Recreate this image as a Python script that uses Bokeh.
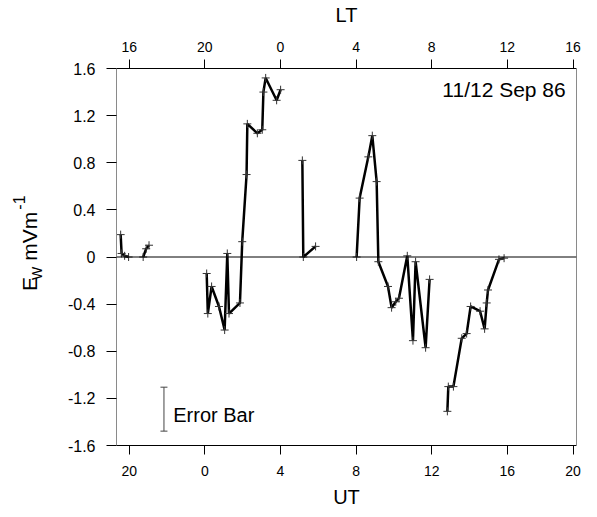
import math
from bokeh.plotting import figure
from bokeh.layouts import row
from bokeh.models import Range1d, LinearAxis, FixedTicker, Label, Span, ColumnDataSource, Whisker, TeeHead
from bokeh.embed import file_html
from bokeh.resources import INLINE

# UT in hours counted from 0 UT on 11 Sep (24 = 0 UT on 12 Sep); LT = UT - 4
seg1_ut = [19.55, 19.60, 19.76, 19.97]
seg1_ew = [0.19, 0.03, 0.01, 0.00]
seg2_ut = [20.74, 20.90, 21.05]
seg2_ew = [0.00, 0.07, 0.10]
seg3_ut = [24.10, 24.16, 24.36, 24.75, 25.05, 25.19, 25.28, 25.86, 25.98, 26.21, 26.25,
           26.78, 27.04, 27.10, 27.22, 27.80, 28.01]
seg3_ew = [-0.14, -0.48, -0.25, -0.42, -0.62, 0.03, -0.48, -0.39, 0.13, 0.70, 1.13,
           1.05, 1.08, 1.40, 1.52, 1.33, 1.42]
seg4_ut = [29.16, 29.21, 29.86]
seg4_ew = [0.82, 0.00, 0.09]
seg5_ut = [32.03, 32.19, 32.65, 32.86, 33.09, 33.18, 33.69, 33.88, 34.10, 34.27, 34.71,
           35.01, 35.15, 35.68, 35.89]
seg5_ew = [0.00, 0.50, 0.85, 1.03, 0.64, -0.04, -0.25, -0.43, -0.38, -0.35, 0.01,
           -0.71, -0.04, -0.77, -0.19]
seg6_ut = [36.83, 36.88, 37.15, 37.59, 37.85, 38.06, 38.56, 38.80, 38.91, 38.98, 39.56, 39.83]
seg6_ew = [-1.31, -1.10, -1.10, -0.69, -0.65, -0.42, -0.46, -0.61, -0.39, -0.28, -0.02, -0.01]

ut_ticks = [20, 24, 28, 32, 36, 40, 43.48]
ut_labels = ["20", "0", "4", "8", "12", "16", "20"]
lt_labels = ["16", "20", "0", "4", "8", "12", "16"]
ew_ticks = [1.6, 1.2, 0.8, 0.4, 0.0, -0.4, -0.8, -1.2, -1.6]
ew_labels = ["1.6", "1.2", "0.8", "0.4", "0", "-0.4", "-0.8", "-1.2", "-1.6"]

errbar_ut = [21.84]
errbar_lo = [-1.478]
errbar_hi = [-1.105]

FONT = "Liberation Sans"
H = 510
LW = 50

p = figure(width=540, height=H, output_backend="svg", toolbar_location=None,
           x_range=Range1d(19.33, 43.66), y_range=Range1d(-1.6, 1.6),
           min_border_left=116 - LW, min_border_right=14, min_border_top=65, min_border_bottom=63)
p.outline_line_color = None
p.xgrid.visible = False
p.ygrid.visible = False
p.background_fill_color = "white"
p.border_fill_color = "white"

def style_axis(ax, ticks, labels, color="black"):
    ax.ticker = FixedTicker(ticks=ticks)
    ax.major_label_overrides = {t: l for t, l in zip(ticks, labels)}
    ax.minor_tick_line_color = None
    ax.major_tick_in = 0
    ax.major_tick_out = 9
    ax.major_tick_line_color = "black"
    ax.axis_line_color = color
    ax.major_label_text_font = FONT
    ax.major_label_text_font_size = "14px"
    ax.major_label_text_color = "black"
    ax.axis_label_text_font = FONT
    ax.axis_label_text_font_style = "normal"
    ax.axis_label_text_font_size = "20px"
    ax.axis_label_text_color = "black"

xa = p.xaxis[0]
style_axis(xa, ut_ticks, ut_labels)
xa.axis_label = "UT"
xa.major_label_standoff = 11
xa.axis_label_standoff = 7

top = LinearAxis(axis_label="LT")
style_axis(top, ut_ticks, lt_labels)
top.major_label_standoff = 8
top.axis_label_standoff = 13
p.add_layout(top, "above")

ya = p.yaxis[0]
style_axis(ya, ew_ticks, ew_labels, color="#8a8a8a")
ya.major_label_text_font_size = "16px"
ya.major_tick_out = 10
ya.major_label_standoff = 11

right = LinearAxis(ticker=FixedTicker(ticks=[]), major_label_text_font_size="0px")
right.axis_line_color = "#8a8a8a"
right.minor_tick_line_color = None
right.major_tick_line_color = None
p.add_layout(right, "right")

p.add_layout(Span(location=0, dimension="width", line_color="black", line_width=1))

xs = [seg1_ut, seg2_ut, seg3_ut, seg4_ut, seg5_ut, seg6_ut]
ys = [seg1_ew, seg2_ew, seg3_ew, seg4_ew, seg5_ew, seg6_ew]
p.multi_line(xs=xs, ys=ys, line_color="black", line_width=2.5)
allx = [v for s in xs for v in s]
ally = [v for s in ys for v in s]
p.scatter(allx, ally, marker="cross", size=8, line_color="#333333", line_width=1)

# error bar
eb = ColumnDataSource(dict(base=errbar_ut, lower=errbar_lo, upper=errbar_hi))
p.add_layout(Whisker(source=eb, base="base", lower="lower", upper="upper", dimension="height",
                     line_color="#444444", line_width=1,
                     upper_head=TeeHead(size=7, line_color="#444444", line_width=1),
                     lower_head=TeeHead(size=7, line_color="#444444", line_width=1)))
p.add_layout(Label(x=22.33, y=-1.337, text="Error Bar", text_font=FONT, text_font_size="20px",
                   text_color="black", text_align="left", text_baseline="alphabetic"))
p.add_layout(Label(x=43.09, y=1.42, text="11/12 Sep 86", text_font=FONT, text_font_size="21px",
                   text_color="black", text_align="right", text_baseline="alphabetic"))

# narrow left panel carrying the rotated y-axis title  E_W mVm^-1
q = figure(width=LW, height=H, output_backend="svg", toolbar_location=None,
           x_range=Range1d(0, LW), y_range=Range1d(0, H),
           x_axis_type=None, y_axis_type=None,
           min_border_left=0, min_border_right=0, min_border_top=0, min_border_bottom=0)
q.outline_line_color = None
q.xgrid.visible = False
q.ygrid.visible = False
rot = math.pi / 2
common = dict(angle=rot, text_font=FONT, text_align="left", text_baseline="alphabetic",
              text_color="black")
q.add_layout(Label(x=29, y=H - 301, text="E", text_font_size="21px", **common))
q.add_layout(Label(x=36, y=H - 286, text="W", text_font_size="14px", **common))
q.add_layout(Label(x=29, y=H - 260, text="mVm", text_font_size="21px", **common))
q.add_layout(Label(x=18, y=H - 191, text="-1", text_font_size="16px", **common))

layout = row(q, p, spacing=0)
open("out.html", "w").write(file_html(layout, INLINE))
